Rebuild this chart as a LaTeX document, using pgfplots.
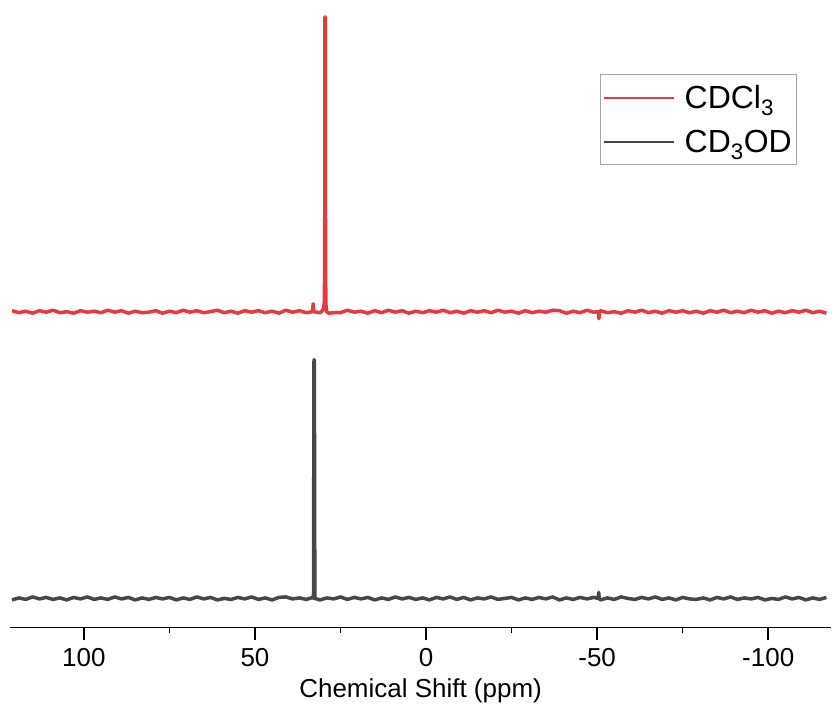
\documentclass[border=0pt]{standalone}
\usepackage{fontspec}
\setmainfont{Liberation Sans}
\usepackage{pgfplots}
\pgfplotsset{compat=1.18}
\definecolor{cRed}{HTML}{E8393D}
\definecolor{cGray}{HTML}{474747}
\newcommand{\lbl}{\fontsize{26}{31}\selectfont}
\newcommand{\leg}{\fontsize{32}{38}\selectfont}
\begin{document}
\begin{tikzpicture}
\begin{axis}[
    scale only axis, width=822pt, height=628pt,
    xmin=-118.4, xmax=121.6, x dir=reverse,
    ymin=0, ymax=628,
    axis x line*=bottom, axis y line=none,
    axis line style={black, line width=1.6pt},
    xtick={-100,-50,0,50,100},
    xticklabels={-100,-50,0,50,100},
    minor xtick={-75,-25,25,75},
    tick align=outside,
    major tick length=13pt, minor tick length=6pt,
    tick style={black, line width=1.6pt},
    xticklabel style={font=\lbl, inner sep=0pt, yshift=-8pt},
    xlabel={Chemical Shift (ppm)},
    xlabel style={font=\lbl, inner sep=0pt, yshift=-12pt},
    clip=false,
    legend cell align=left,
    legend style={at={(0.9586,0.882)}, anchor=north east, draw=gray!70, line width=0.8pt,
        font=\leg, inner xsep=3pt, inner ysep=9pt, row sep=16pt},
    legend image code/.code={\draw[#1, line width=2pt] (0pt,0pt) -- (70pt,0pt); \path (77pt,0pt);},
]
% CDCl3
\addplot[cRed, line width=3.5pt, line join=round] coordinates {
(121,317) (119,315) (117,316.5) (115,314.5) (113,317) (111,315.5) (109,317.5) (107,315) (105,316) (103,314.5)
(101,317) (99,315.5) (97,316.5) (95,315) (93,317.5) (91,315.5) (89,317) (87,314.5) (85,316.5) (83,315)
(81,315.5) (79,317) (77,314.5) (75,316.5) (73,315) (71,317.5) (69,315.5) (67,317) (65,315) (63,316)
(61,317.5) (59,315) (57,316.5) (55,314.5) (53,317) (51,315.5) (49,317) (47,315) (45,316.5) (43,314.5)
(41,317.5) (39,315.5) (37,317) (35,315) (33.2,316) (33.0,324) (32.8,316) (31,315) (30.3,317) (29.9,320)
(29.7,327) (29.6,420) (29.55,611) (29.45,611) (29.4,420) (29.3,325) (29.1,316) (28.5,314.5) (27,315)
(25,315) (23,317.5) (21,315.5) (19,316.5) (17,314.5) (15,317) (13,315) (11,317.5) (9,315.5) (7,317) (5,314.5) (3,316.5)
(1,315) (-1,317) (-3,315.5) (-5,317.5) (-7,315) (-9,316.5) (-11,314.5) (-13,317) (-15,315.5) (-17,317)
(-19,315) (-21,317.5) (-23,315.5) (-25,316.5) (-27,314.5) (-29,317) (-31,315) (-33,316.5) (-35,315.5) (-37,317.5)
(-39,317) (-41,314.5) (-43,316.5) (-45,315) (-47,317.5) (-49,315.5) (-50.3,316) (-50.5,309) (-50.7,316) (-51,317)
(-53,315) (-55,316) (-57,314.5) (-59,317) (-61,315.5) (-63,317.5) (-65,315) (-67,316.5) (-69,314.5) (-71,317)
(-73,315.5) (-75,317) (-77,315)
(-79,316.5) (-81,314.5) (-83,317) (-85,315.5) (-87,317.5) (-89,315) (-91,316.5) (-93,315) (-95,317.5) (-97,315.5)
(-99,317) (-101,314.5) (-103,316.5) (-105,315) (-107,317) (-109,315.5) (-111,317.5) (-113,315) (-115,316.5) (-117,314.5)
};
\addlegendentry{CDCl\textsubscript{3}}
% CD3OD
\addplot[cGray, line width=3.5pt, line join=round] coordinates {
(121,27.5) (119,29.5) (117,28) (115,30.5) (113,28.5) (111,30) (109,28) (107,29.5) (105,27.5) (103,30)
(101,28.5) (99,30.5) (97,28) (95,29.5) (93,28) (91,30.5) (89,28.5) (87,30) (85,27.5) (83,29.5)
(81,28) (79,30) (77,28.5) (75,30) (73,27.5) (71,29.5) (69,28) (67,30.5) (65,28.5) (63,30)
(61,27.5) (59,29) (57,28) (55,30) (53,28.5) (51,30.5) (49,28) (47,29.5) (45,27.5) (43,30)
(41,30.5) (39,28.5) (37,29.5) (35,28) (33,30) (32.9,29) (32.75,268) (32.65,268) (32.5,29) (31,27.5)
(29,29.5) (27,28.5) (25,30.5) (23,28) (21,30) (19,28.5) (17,30) (15,27.5) (13,29.5) (11,28) (9,30.5) (7,28.5) (5,30) (3,28)
(1,29.5) (-1,27.5) (-3,30) (-5,28.5) (-7,30.5) (-9,28) (-11,30) (-13,27.5) (-15,29.5) (-17,28.5)
(-19,30.5) (-21,28) (-23,29) (-25,30) (-27,27.5) (-29,29.5) (-31,28) (-33,30) (-35,28.5) (-37,30.5)
(-39,27.5) (-41,29.5) (-43,28) (-45,30) (-47,28.5) (-49,30) (-50.3,29) (-50.45,35) (-50.6,29) (-51,27.5)
(-53,29.5) (-55,28) (-57,30.5) (-59,29) (-61,28) (-63,30) (-65,28.5) (-67,30.5) (-69,28) (-71,29.5)
(-73,27.5) (-75,30) (-77,28.5)
(-79,28) (-81,29.5) (-83,27.5) (-85,30) (-87,28.5) (-89,30.5) (-91,28) (-93,29.5) (-95,28.5) (-97,30)
(-99,27.5) (-101,29) (-103,28) (-105,30.5) (-107,28.5) (-109,30) (-111,27.5) (-113,29.5) (-115,28) (-117,30)
};
\addlegendentry{CD\textsubscript{3}OD}
\end{axis}
\path ([shift={(-10pt,-83pt)}]current axis.south west) rectangle ([shift={(822pt,628pt)}]current axis.south west);
\end{tikzpicture}
\end{document}
